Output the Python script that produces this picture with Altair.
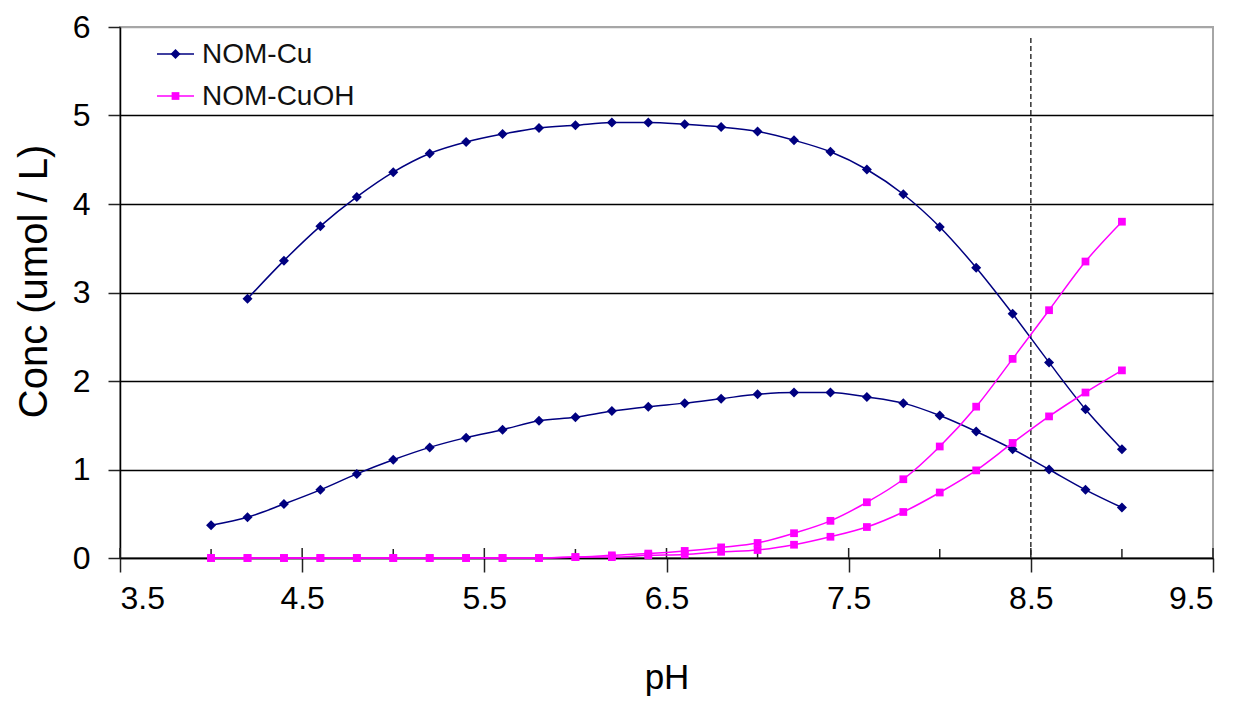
import altair as alt
import pandas as pd

# pH grid of the speciation run
ph = [4.0, 4.2, 4.4, 4.6, 4.8, 5.0, 5.2, 5.4, 5.6, 5.8, 6.0, 6.2, 6.4,
      6.6, 6.8, 7.0, 7.2, 7.4, 7.6, 7.8, 8.0, 8.2, 8.4, 8.6, 8.8, 9.0]

# NOM-Cu, high-copper case (first pH step not reported)
cu_high = [None, 2.93, 3.36, 3.75, 4.08, 4.36, 4.57, 4.70, 4.79, 4.86, 4.89, 4.92, 4.92,
           4.90, 4.87, 4.82, 4.72, 4.59, 4.39, 4.11, 3.74, 3.28, 2.76, 2.21, 1.68, 1.23]
# NOM-Cu, low-copper case
cu_low = [0.37, 0.46, 0.61, 0.77, 0.95, 1.11, 1.25, 1.36, 1.45, 1.55, 1.59, 1.66, 1.71,
          1.75, 1.80, 1.85, 1.87, 1.87, 1.82, 1.75, 1.61, 1.43, 1.23, 1.00, 0.77, 0.57]
# NOM-CuOH, high-copper case
cuoh_high = [0.0, 0.0, 0.0, 0.0, 0.0, 0.0, 0.0, 0.0, 0.0, 0.0, 0.01, 0.03, 0.05,
             0.08, 0.12, 0.17, 0.28, 0.42, 0.63, 0.89, 1.26, 1.71, 2.25, 2.80, 3.35, 3.80]
# NOM-CuOH, low-copper case
cuoh_low = [0.0, 0.0, 0.0, 0.0, 0.0, 0.0, 0.0, 0.0, 0.0, 0.0, 0.01, 0.01, 0.03,
            0.04, 0.07, 0.09, 0.15, 0.24, 0.35, 0.52, 0.74, 0.99, 1.30, 1.60, 1.87, 2.12]

species = ["NOM-Cu", "NOM-CuOH"]
colors = ["#000080", "#FF00FF"]
shapes = ["diamond", "square"]
marker_sizes = [100, 60]

x_ticks = [3.5, 4.5, 5.5, 6.5, 7.5, 8.5, 9.5]
x_minor = [4.0, 5.0, 6.0, 7.0, 8.0, 9.0]
y_ticks = [0, 1, 2, 3, 4, 5, 6]
marker_ph = 8.5

W, H = 1093, 531
FONT = "Liberation Sans"

rows = []
for name, sp, vals in [("cu_high", "NOM-Cu", cu_high), ("cu_low", "NOM-Cu", cu_low),
                       ("cuoh_high", "NOM-CuOH", cuoh_high), ("cuoh_low", "NOM-CuOH", cuoh_low)]:
    for p, v in zip(ph, vals):
        if v is not None:
            rows.append({"pH": p, "conc": v, "species": sp, "curve": name})
df = pd.DataFrame(rows)

x_scale = alt.Scale(domain=[3.5, 9.5], nice=False, zero=False)
y_scale = alt.Scale(domain=[0, 6], nice=False)
color_scale = alt.Scale(domain=species, range=colors)
shape_scale = alt.Scale(domain=species, range=shapes)

x_axis = alt.Axis(values=x_ticks, format=".1f", title="pH", grid=False,
                  domainColor="black", domainWidth=1.5, tickColor="#222", tickWidth=1.5,
                  tickSize=14, labelFont=FONT, labelFontSize=32, labelColor="black",
                  labelPadding=11, titleFont=FONT, titleFontSize=35, titleFontWeight="normal",
                  titleColor="black", titleBaseline="alphabetic", titleY=130)
y_axis = alt.Axis(values=y_ticks, format="d", title="Conc (umol / L)", grid=True,
                  gridColor={"condition": {"test": "datum.value === 6", "value": "#a6a6a6"},
                             "value": "black"},
                  gridWidth=1.5, domainColor="black", domainWidth=1.5,
                  tickColor="#222", tickWidth=1.5, tickSize=12,
                  labelFont=FONT, labelFontSize=32, labelColor="black", labelPadding=18,
                  titleFont=FONT, titleFontSize=40, titleFontWeight="normal",
                  titleColor="black", titleBaseline="alphabetic", titleX=-74, titleY=254)

base = alt.Chart(df)

lines = base.mark_line(interpolate="monotone", strokeWidth=1.5).encode(
    x=alt.X("pH:Q", scale=x_scale, axis=x_axis),
    y=alt.Y("conc:Q", scale=y_scale, axis=y_axis),
    color=alt.Color("species:N", scale=color_scale, legend=None),
    detail="curve:N",
)

points = base.mark_point(filled=True, opacity=1).encode(
    x=alt.X("pH:Q", scale=x_scale),
    y=alt.Y("conc:Q", scale=y_scale),
    color=alt.Color("species:N", scale=color_scale, legend=None),
    shape=alt.Shape("species:N", scale=shape_scale, legend=None),
    size=alt.Size("species:N", scale=alt.Scale(domain=species, range=marker_sizes), legend=None),
)

# inward tick marks along the pH axis
major_up = alt.Chart(pd.DataFrame({"pH": x_ticks})).mark_rule(
    color="#222", strokeWidth=1.5).encode(
    x=alt.X("pH:Q", scale=x_scale), y=alt.value(H - 10), y2=alt.value(H))
minor_up = alt.Chart(pd.DataFrame({"pH": x_minor})).mark_rule(
    color="#222", strokeWidth=1.5).encode(
    x=alt.X("pH:Q", scale=x_scale), y=alt.value(H - 9), y2=alt.value(H))

ref_line = alt.Chart(pd.DataFrame({"pH": [marker_ph]})).mark_rule(
    color="#333", strokeWidth=1.5, strokeDash=[5, 3]).encode(
    x=alt.X("pH:Q", scale=x_scale), y=alt.value(11), y2=alt.value(H))

# legend drawn inside the plot area
legend_layers = []
for i, (sp, col, shp, sz) in enumerate(zip(species, colors, shapes, marker_sizes)):
    ly = 27 + 42 * i
    ldf = pd.DataFrame({"label": [sp]})
    legend_layers.append(alt.Chart(ldf).mark_rule(color=col, strokeWidth=1.5).encode(
        x=alt.value(37), x2=alt.value(74), y=alt.value(ly)))
    legend_layers.append(alt.Chart(ldf).mark_point(
        filled=True, opacity=1, color=col, shape=shp, size=sz).encode(
        x=alt.value(55.5), y=alt.value(ly)))
    legend_layers.append(alt.Chart(ldf).mark_text(
        align="left", baseline="middle", font=FONT, fontSize=28, color="#111").encode(
        x=alt.value(82), y=alt.value(ly + 1), text="label:N"))

chart = alt.layer(
    ref_line, major_up, minor_up, lines, points, *legend_layers
).properties(
    width=W, height=H,
    autosize=alt.AutoSizeParams(type="none"),
    padding={"left": 120, "top": 27, "right": 33, "bottom": 146},
    background="white",
).configure_view(stroke="#a6a6a6", strokeWidth=2)

chart.save("out.html", embed_options={"renderer": "svg", "actions": False})
